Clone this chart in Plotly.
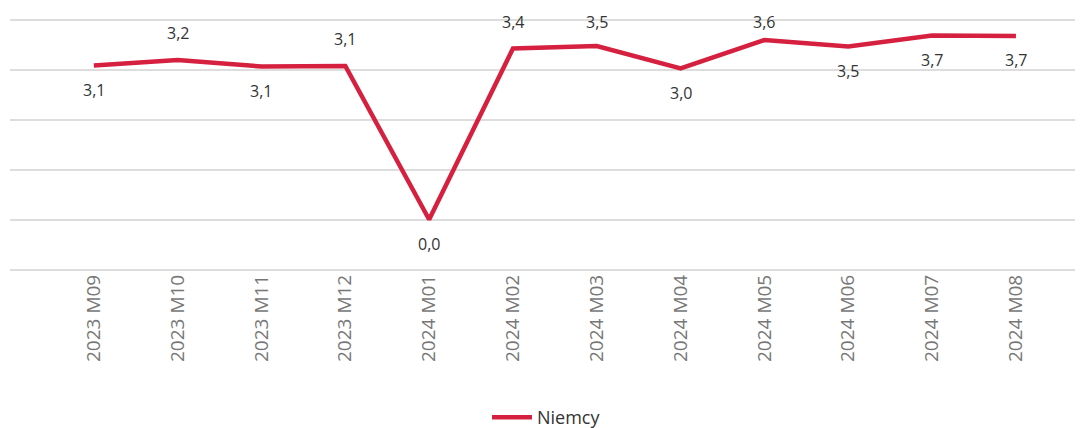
import plotly.graph_objects as go

categories = ["2023 M09", "2023 M10", "2023 M11", "2023 M12", "2024 M01", "2024 M02",
              "2024 M03", "2024 M04", "2024 M05", "2024 M06", "2024 M07", "2024 M08"]
values = [3.08, 3.19, 3.06, 3.07, 0.0, 3.42, 3.47, 3.02, 3.59, 3.46, 3.68, 3.67]
label_side = ["below", "above", "below", "above", "below", "above",
              "above", "below", "above", "below", "below", "below"]
series_name = "Niemcy"

color = "#D6203F"
FONT = "Open Sans, Noto Sans, sans-serif"
Y_RANGE = [-1.05, 4.05]
PX_PER_UNIT = 50  # plot height 255 px / 5.1 units
TOP_LIMIT = 3.95  # keep labels inside the chart's top area

fig = go.Figure()
fig.add_trace(go.Scatter(
    x=list(range(len(categories))), y=values, mode="lines", name=series_name,
    line=dict(color=color, width=4.5), hoverinfo="skip",
))

for i, (v, side) in enumerate(zip(values, label_side)):
    if side == "above":
        shift = min(27, PX_PER_UNIT * (TOP_LIMIT - v))
    else:
        shift = -24
    fig.add_annotation(
        x=i, y=v, text=f"{v:.1f}".replace(".", ","), showarrow=False,
        yshift=shift,
        font=dict(family=FONT, size=16, color="#333333"),
    )

fig.update_layout(
    width=1083, height=428,
    margin=dict(l=2, r=8, t=9, b=164),
    plot_bgcolor="white", paper_bgcolor="white",
    showlegend=True,
    legend=dict(orientation="h", x=0.5, xanchor="center", y=0.0, yanchor="bottom",
                yref="container", itemwidth=40,
                font=dict(family=FONT, size=18, color="#333333")),
    xaxis=dict(
        tickmode="array", tickvals=list(range(len(categories))), ticktext=categories,
        range=[-1.0, 11.8], tickangle=-90, showgrid=False, zeroline=False,
        showline=False, ticks="", ticklabelstandoff=-2,
        tickfont=dict(family=FONT, size=19, color="#777777"),
    ),
    yaxis=dict(
        range=Y_RANGE, dtick=1, tick0=0, showgrid=True, gridcolor="#DDDDDD",
        gridwidth=1.5, zeroline=False, showticklabels=False, ticks="",
    ),
)

fig.write_html("out.html")
